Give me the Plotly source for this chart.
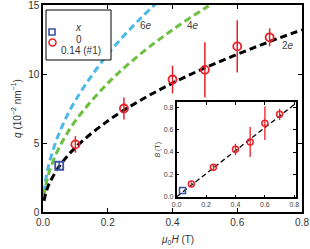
import plotly.graph_objects as go

# ---- data ----
H_x0 = [0.05]
q_x0 = [3.35]
q_x0_err = [0.3]

H_x14 = [0.10, 0.25, 0.40, 0.50, 0.60, 0.70]
q_x14 = [4.9, 7.5, 9.6, 10.3, 12.0, 12.66]
q_x14_err = [0.6, 0.8, 1.0, 2.0, 1.9, 0.65]

# dashed guide curves
H_2e = [0.003, 0.01, 0.02, 0.05, 0.1, 0.2, 0.3, 0.4, 0.5, 0.6, 0.7, 0.8]
q_2e = [0.81, 1.48, 2.09, 3.30, 4.67, 6.60, 8.08, 9.34, 10.44, 11.43, 12.35, 13.20]
H_4e = [0.003, 0.01, 0.02, 0.05, 0.1, 0.2, 0.3, 0.4, 0.5, 0.53]
q_4e = [1.14, 2.09, 2.95, 4.67, 6.60, 9.33, 11.43, 13.20, 14.76, 15.2]
H_6e = [0.003, 0.01, 0.02, 0.05, 0.1, 0.2, 0.3, 0.36]
q_6e = [1.40, 2.56, 3.61, 5.72, 8.08, 11.43, 14.0, 15.33]

# inset data
Hi_x0 = [0.04]
B_x0 = [0.055]
Hi_x14 = [0.10, 0.25, 0.40, 0.50, 0.60, 0.70]
B_x14 = [0.114, 0.263, 0.424, 0.49, 0.657, 0.737]
B_x14_err = [0.015, 0.025, 0.05, 0.135, 0.15, 0.05]
Hi_line = [0.0, 0.8]
B_line = [0.0, 0.825]

main_ticks = [0.0, 0.2, 0.4, 0.6, 0.8]
main_ticklabels = ["0.0", "0.2", "0.4", "0.6", "0.8"]
q_ticks = [0, 5, 10, 15]
inset_ticks = [0.0, 0.2, 0.4, 0.6, 0.8]
inset_ticklabels = ["0.0", "0.2", "0.4", "0.6", "0.8"]

legend_title = "<i>x</i>"
legend_labels = ["0", "0.14 (#1)"]

RED = "#e8202a"
BLUE = "#3953a4"
GREEN = "#6cbf3f"
CYAN = "#4db8ea"
TXT = "#333"
FONT = "Liberation Sans, Arial, sans-serif"

fig = go.Figure()

DASH = "7px,4px"
fig.add_trace(go.Scatter(x=H_6e, y=q_6e, mode="lines", line=dict(color=CYAN, width=3, dash=DASH, shape="spline"), showlegend=False))
fig.add_trace(go.Scatter(x=H_4e, y=q_4e, mode="lines", line=dict(color=GREEN, width=3, dash=DASH, shape="spline"), showlegend=False))
fig.add_trace(go.Scatter(x=H_2e, y=q_2e, mode="lines", line=dict(color="black", width=3, dash=DASH, shape="spline"), showlegend=False))

fig.add_trace(go.Scatter(x=H_x0, y=q_x0, mode="markers", name=legend_labels[0], showlegend=False,
                         error_y=dict(type="data", array=q_x0_err, color=BLUE, thickness=1.5, width=0),
                         marker=dict(symbol="square-open", size=8, color=BLUE, line=dict(width=1.8))))
fig.add_trace(go.Scatter(x=H_x14, y=q_x14, mode="markers", name=legend_labels[1], showlegend=False,
                         error_y=dict(type="data", array=q_x14_err, color=RED, thickness=1.5, width=0),
                         marker=dict(symbol="circle-open", size=8, color=RED, line=dict(width=1.8))))

# inset traces
fig.add_trace(go.Scatter(x=Hi_line, y=B_line, mode="lines", xaxis="x2", yaxis="y2",
                         line=dict(color="black", width=1.3, dash="5px,3px"), showlegend=False))
fig.add_trace(go.Scatter(x=Hi_x0, y=B_x0, mode="markers", xaxis="x2", yaxis="y2", showlegend=False,
                         marker=dict(symbol="square-open", size=6, color=BLUE, line=dict(width=1.5))))
fig.add_trace(go.Scatter(x=Hi_x14, y=B_x14, mode="markers", xaxis="x2", yaxis="y2", showlegend=False,
                         error_y=dict(type="data", array=B_x14_err, color=RED, thickness=1.3, width=0),
                         marker=dict(symbol="circle-open", size=6, color=RED, line=dict(width=1.5))))

# compact legend box drawn in paper coordinates (plot area is 259 x 207 px)
PW, PH = 259.0, 207.0
def px(xp):
    return (xp - 43) / PW
def py(yp):
    return (212 - yp) / PH

legend_shapes = [
    dict(type="rect", xref="paper", yref="paper", x0=px(46), x1=px(111), y0=py(60), y1=py(10),
         fillcolor="white", line=dict(color="black", width=1), layer="above"),
    dict(type="rect", xref="paper", yref="paper", x0=px(49), x1=px(55), y0=py(35), y1=py(29),
         line=dict(color=BLUE, width=1.6), fillcolor="rgba(0,0,0,0)", layer="above"),
    dict(type="circle", xref="paper", yref="paper", x0=px(49), x1=px(56), y0=py(46), y1=py(39),
         line=dict(color=RED, width=1.6), fillcolor="rgba(0,0,0,0)", layer="above"),
]
legend_annots = [
    dict(xref="paper", yref="paper", x=px(72.5), y=py(20), text=legend_title, showarrow=False,
         font=dict(size=10, color=TXT)),
    dict(xref="paper", yref="paper", x=px(73.5), y=py(32), text=legend_labels[0], showarrow=False,
         font=dict(size=10, color=TXT)),
    dict(xref="paper", yref="paper", x=px(59), y=py(42.5), text=legend_labels[1], showarrow=False,
         xanchor="left", font=dict(size=10, color=TXT)),
]

fig.update_layout(
    width=310, height=249,
    margin=dict(l=43, r=8, t=5, b=37, autoexpand=False),
    paper_bgcolor="white", plot_bgcolor="white",
    font=dict(family=FONT, size=10, color=TXT),
    showlegend=False,
    xaxis=dict(range=[0, 0.8], tickvals=main_ticks, ticktext=main_ticklabels, automargin=False,
               ticks="inside", ticklen=4, tickwidth=1, tickcolor="black", ticklabeloverflow="allow",
               showline=True, linecolor="black", linewidth=1.5, mirror="ticks",
               showgrid=False, zeroline=False, tickfont=dict(size=10)),
    yaxis=dict(range=[0, 15], tickvals=q_ticks, automargin=False,
               ticks="inside", ticklen=4, tickwidth=1, tickcolor="black", ticklabeloverflow="allow",
               showline=True, linecolor="black", linewidth=1.5, mirror="ticks",
               showgrid=False, zeroline=False, tickfont=dict(size=10),
               title=dict(text="<i>q</i> (10<sup>−2</sup> nm<sup>−1</sup>)", font=dict(size=10), standoff=5)),
    xaxis2=dict(domain=[0.516, 0.976], anchor="y2", range=[0, 0.81], tickvals=inset_ticks, ticktext=inset_ticklabels,
                automargin=False, ticklabeloverflow="allow",
                ticks="inside", ticklen=3, tickwidth=1, tickcolor="black",
                showline=True, linecolor="black", linewidth=1.5, mirror="ticks",
                showgrid=False, zeroline=False, tickfont=dict(size=7, color="#444")),
    yaxis2=dict(domain=[0.071, 0.530], anchor="x2", range=[-0.005, 0.845], tickvals=inset_ticks, ticktext=inset_ticklabels,
                automargin=False, ticklabeloverflow="allow",
                ticks="inside", ticklen=3, tickwidth=1, tickcolor="black",
                showline=True, linecolor="black", linewidth=1.5, mirror="ticks",
                showgrid=False, zeroline=False, tickfont=dict(size=7, color="#444"),
                title=dict(text="<i>B</i> (T)", font=dict(size=7, color="#444"), standoff=2)),
    shapes=[dict(type="rect", xref="paper", yref="paper", x0=0.50, x1=0.99, y0=0.02, y1=0.55,
                 fillcolor="white", line=dict(width=0), layer="below")] + legend_shapes,
    annotations=[
        dict(x=0.318, y=13.5, text="6<i>e</i>", showarrow=False, font=dict(size=10, color="#444")),
        dict(x=0.462, y=13.5, text="4<i>e</i>", showarrow=False, font=dict(size=10, color="#444")),
        dict(x=0.758, y=12.1, text="2<i>e</i>", showarrow=False, font=dict(size=10, color="#444")),
        dict(xref="paper", yref="paper", x=0.521, y=-0.135, yanchor="middle",
             text="<i>μ</i><sub>0</sub><i>H</i> (T)", showarrow=False, font=dict(size=10, color=TXT)),
    ] + legend_annots,
)

fig.write_html("out.html", config={"displayModeBar": False},
               post_script="document.body.style.margin='0';document.body.style.overflow='hidden';")
